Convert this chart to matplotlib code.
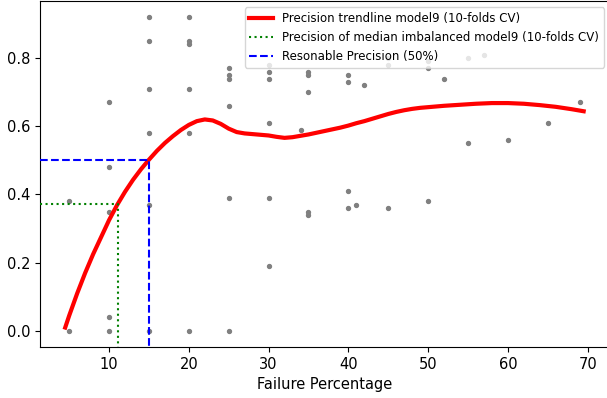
import matplotlib
matplotlib.use("Agg")
import matplotlib.pyplot as plt
import numpy as np

# Scatter data: failure percentage vs precision
scatter_x = [5, 5,
             10, 10, 10, 10, 10,
             15, 15, 15, 15, 15, 15,
             20, 20, 20, 20, 20, 20,
             25, 25, 25, 25, 25, 25,
             30, 30, 30, 30, 30, 30,
             34, 35, 35, 35, 35, 35,
             40, 40, 40, 40, 41, 42,
             45, 45, 45,
             50, 50, 50, 52,
             55, 55, 57, 60, 65, 69]
scatter_y = [0.38, 0.00,
             0.67, 0.48, 0.35, 0.04, 0.00,
             0.92, 0.85, 0.71, 0.58, 0.37, 0.00,
             0.92, 0.85, 0.84, 0.71, 0.58, 0.00,
             0.77, 0.75, 0.74, 0.66, 0.39, 0.00,
             0.78, 0.76, 0.74, 0.61, 0.39, 0.19,
             0.59, 0.76, 0.75, 0.70, 0.35, 0.34,
             0.75, 0.73, 0.41, 0.36, 0.37, 0.72,
             0.80, 0.78, 0.36,
             0.79, 0.77, 0.38, 0.74,
             0.80, 0.55, 0.81, 0.56, 0.61, 0.67]

# Trendline values
trend_x = [4.5, 5, 6, 7, 8, 9, 10, 11, 12, 13, 14, 15, 16, 17, 18, 19, 20,
           21, 22, 23, 24, 25, 26, 27, 28, 29, 30, 31, 32, 33, 34, 35, 36,
           37, 38, 39, 40, 41, 42, 43, 44, 45, 46, 47, 48, 49, 50, 52, 54,
           56, 58, 60, 62, 64, 66, 68, 69.5]
trend_y = [0.01, 0.045, 0.11, 0.17, 0.225, 0.275, 0.325, 0.369, 0.408, 0.443,
           0.474, 0.502, 0.528, 0.551, 0.571, 0.589, 0.604, 0.615, 0.620,
           0.617, 0.607, 0.593, 0.583, 0.579, 0.577, 0.575, 0.573, 0.569,
           0.566, 0.568, 0.572, 0.576, 0.581, 0.586, 0.591, 0.596, 0.602,
           0.609, 0.615, 0.622, 0.629, 0.636, 0.642, 0.647, 0.651, 0.654,
           0.656, 0.660, 0.663, 0.666, 0.668, 0.668, 0.666, 0.662, 0.657,
           0.650, 0.644]

median_x = 11.1
median_y = 0.373
reasonable_x = 15
reasonable_y = 0.5

labels = ["Precision trendline model9 (10-folds CV)",
          "Precision of median imbalanced model9 (10-folds CV)",
          "Resonable Precision (50%)"]

W, H = 607, 398
fig = plt.figure(figsize=(W / 100, H / 100), dpi=100)
ax = fig.add_axes([40 / W, 51 / H, 570 / W, 345.6 / H])

xlim = (1.34, 72.8)
ylim = (-0.047, 0.966)

ax.scatter(scatter_x, scatter_y, s=8, color="gray", zorder=2)
ax.plot(trend_x, trend_y, color="red", lw=3, label=labels[0], zorder=3)
ax.plot([xlim[0], median_x, median_x], [median_y, median_y, ylim[0]],
        color="green", ls=":", lw=1.5, label=labels[1], zorder=3)
ax.plot([xlim[0], reasonable_x, reasonable_x], [reasonable_y, reasonable_y, ylim[0]],
        color="blue", ls="--", lw=1.5, label=labels[2], zorder=3)

ax.set_xlim(*xlim)
ax.set_ylim(*ylim)
ax.set_xticks([10, 20, 30, 40, 50, 60, 70])
ax.set_yticks([0.0, 0.2, 0.4, 0.6, 0.8])
ax.tick_params(labelsize=10.5)
ax.set_xlabel("Failure Percentage", fontsize=10.5)
ax.legend(loc="upper right", fontsize=8.5)

fig.savefig("out.png", dpi=100)
